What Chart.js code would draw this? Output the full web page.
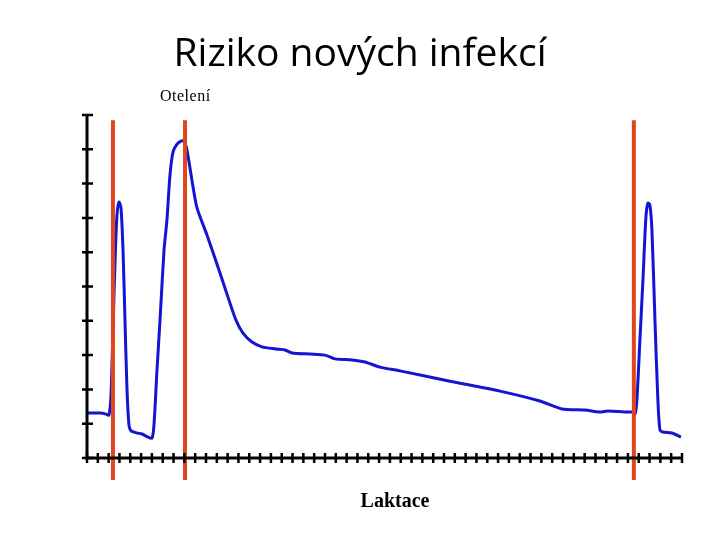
<!DOCTYPE html>
<html>
<head>
<meta charset="utf-8">
<script src="https://cdn.jsdelivr.net/npm/chart.js@4"></script>
<style>
  html, body { margin: 0; padding: 0; background: #fff; }
  #wrap { position: relative; width: 720px; height: 540px; }
  #title { position: absolute; left: 0; top: 24px; width: 720px; text-align: center;
    font-family: "Open Sans", sans-serif; font-size: 39px; color: #000; }
  #mark { position: absolute; left: 160px; top: 87px; font-family: "Liberation Serif", serif;
    font-size: 16px; letter-spacing: 0.5px; color: #000; }
  #xlabel { position: absolute; left: 0; width: 790px; text-align: center; top: 489px;
    font-family: "Liberation Serif", serif; font-weight: bold; font-size: 20px; color: #000; }
</style>
</head>
<body>
<div id="wrap">
  <canvas id="chart" width="720" height="540"></canvas>
  <div id="title">Riziko nových infekcí</div>
  <div id="mark">Otelení</div>
  <div id="xlabel">Laktace</div>
</div>
<script>
// křivka rizika (x = dílek osy, y = dílek osy)
const riskX = [0, 1.2, 1.76, 2.03, 2.22, 2.4, 2.59, 2.77, 2.96, 3.14, 3.33, 3.51, 3.7, 3.88, 4.07,
  4.62, 5.08, 5.64, 6.01, 6.19, 6.47, 6.75, 7.12, 7.39, 7.67, 7.95, 8.32, 8.69, 8.96, 9.24,
  9.7, 10.17, 11.09, 12.2, 13.03, 13.77, 14.42, 15.25, 16.17, 17.47, 18.3, 18.95, 20.61, 22.0,
  22.92, 24.49, 25.69, 27.08, 28.93, 33.55, 38.17, 41.87, 43.9, 46.03, 47.41, 48.15, 49.72,
  50.37, 50.65, 50.83, 51.11, 51.39, 51.66, 51.85, 52.03, 52.22, 52.5, 52.77, 52.96, 53.23,
  54.07, 54.9];
const riskY = [1.31, 1.31, 1.28, 1.25, 1.84, 3.73, 5.71, 7.08, 7.46, 7.29, 6.06, 4.02, 1.98, 0.96, 0.79,
  0.73, 0.7, 0.61, 0.58, 0.96, 2.57, 4.02, 6.06, 6.94, 8.25, 8.92, 9.15, 9.24, 9.24, 8.98,
  8.1, 7.29, 6.5, 5.48, 4.69, 4.02, 3.64, 3.38, 3.24, 3.18, 3.15, 3.06, 3.03, 3.0,
  2.89, 2.86, 2.8, 2.65, 2.54, 2.24, 1.95, 1.66, 1.43, 1.4, 1.34, 1.37, 1.34,
  1.34, 1.28, 1.69, 3.44, 5.19, 7.0, 7.43, 7.38, 6.65, 4.02, 1.69, 0.82, 0.76,
  0.73, 0.61];

// svislé značky (suché období / otelení)
const markerX = [2.4, 9.06, 50.55];
const markerSpan = [-0.64, 9.85];

// dílky os
const xTickCount = 55;
const yTickCount = 10;

const riskData = riskX.map((x, i) => ({ x: x, y: riskY[i] }));

const markerSets = markerX.map((x) => ({
  data: [{ x: x, y: markerSpan[0] }, { x: x, y: markerSpan[1] }],
  borderColor: "#e0461c",
  borderWidth: 4,
  pointRadius: 0,
  clip: false,
  order: 1,
}));

// osy s křížovými dílky
const axisPlugin = {
  id: "crossAxes",
  afterDatasetsDraw(chart) {
    const ctx = chart.ctx;
    const xs = chart.scales.x;
    const ys = chart.scales.y;
    const x0 = xs.getPixelForValue(0);
    const y0 = ys.getPixelForValue(0);
    ctx.save();
    ctx.strokeStyle = "#000";
    ctx.lineWidth = 3;
    ctx.beginPath();
    ctx.moveTo(x0, ys.getPixelForValue(yTickCount));
    ctx.lineTo(x0, y0);
    ctx.lineTo(xs.getPixelForValue(xTickCount), y0);
    ctx.stroke();
    ctx.lineWidth = 2.5;
    ctx.beginPath();
    for (let i = 0; i <= xTickCount; i++) {
      const px = xs.getPixelForValue(i);
      ctx.moveTo(px, y0 - 5);
      ctx.lineTo(px, y0 + 5);
    }
    for (let i = 0; i <= yTickCount; i++) {
      const py = ys.getPixelForValue(i);
      ctx.moveTo(x0 - 5, py);
      ctx.lineTo(x0 + 6, py);
    }
    ctx.stroke();
    ctx.restore();
  },
};

new Chart(document.getElementById("chart"), {
  type: "line",
  data: {
    datasets: [
      {
        data: riskData,
        borderColor: "#1414d2",
        borderWidth: 3,
        pointRadius: 0,
        tension: 0.25,
        order: 2,
      },
      ...markerSets,
    ],
  },
  options: {
    responsive: false,
    animation: false,
    layout: { padding: { left: 87, right: 38, top: 115, bottom: 82 } },
    plugins: { legend: { display: false }, tooltip: { enabled: false } },
    scales: {
      x: { type: "linear", min: 0, max: xTickCount, display: false },
      y: { type: "linear", min: 0, max: yTickCount, display: false },
    },
  },
  plugins: [axisPlugin],
});
</script>
</body>
</html>
